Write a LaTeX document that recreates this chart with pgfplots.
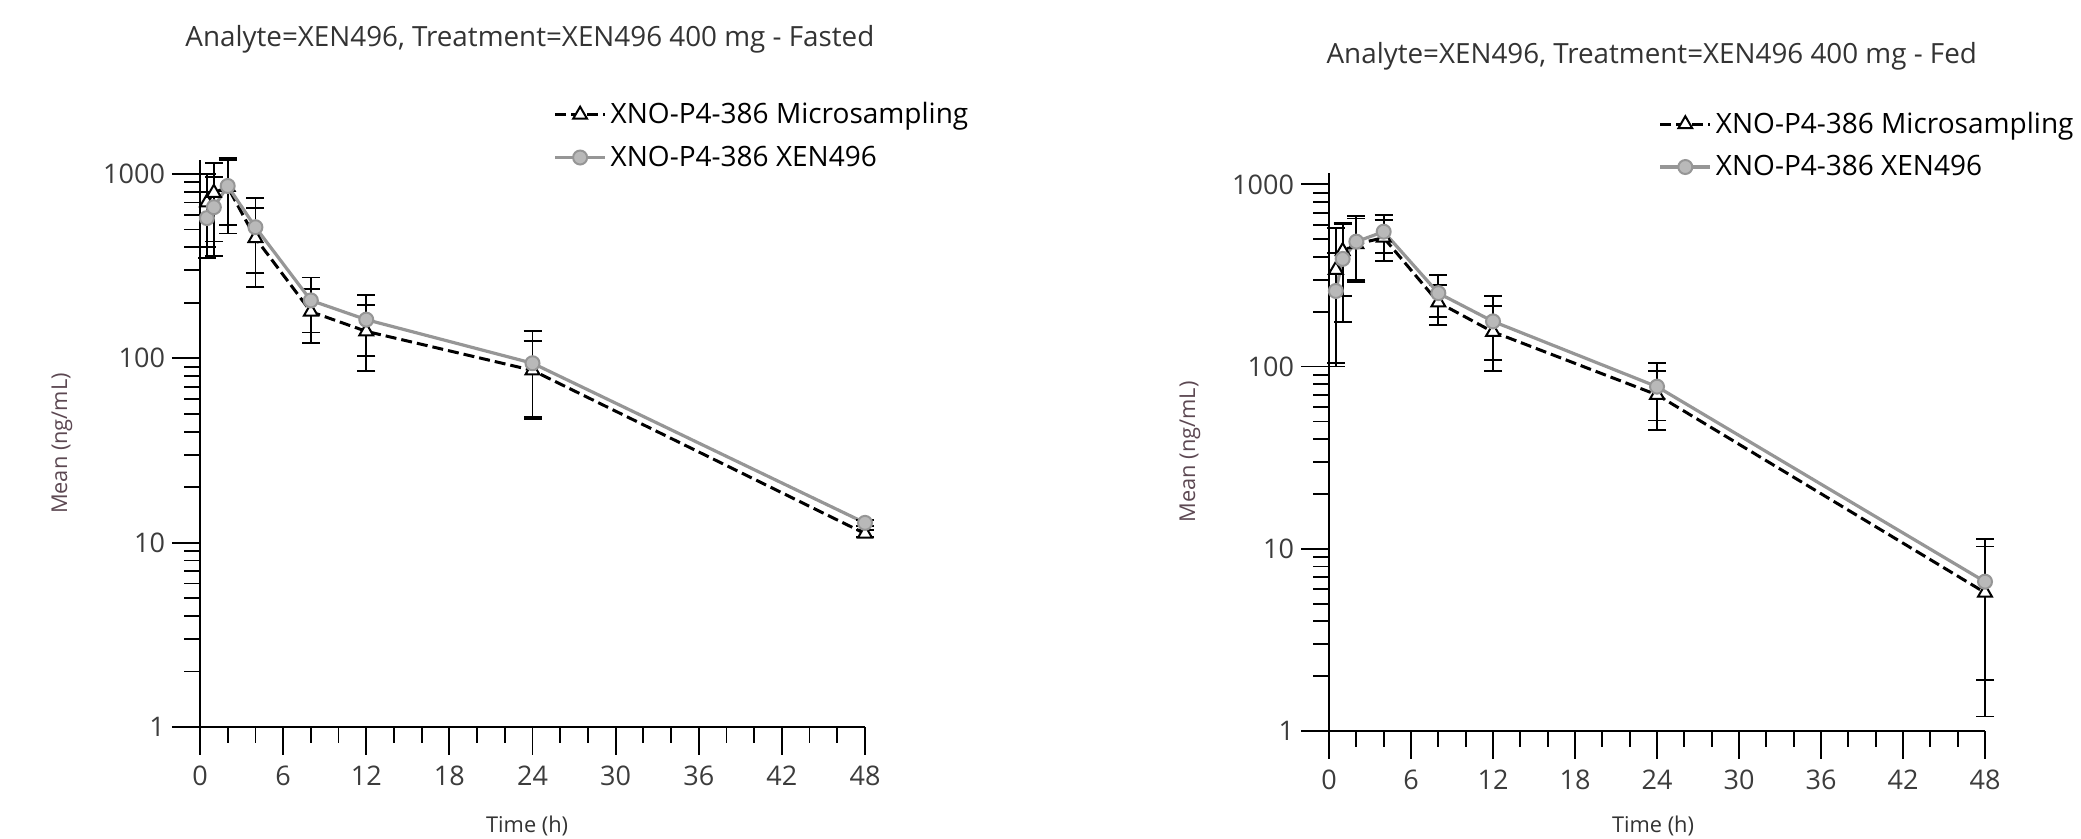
\documentclass[border=0pt]{standalone}
\usepackage{fontspec}
\setmainfont{Open Sans}
\usepackage{pgfplots}
\usepackage{pgfplotstable}
\pgfplotsset{compat=1.18}

\definecolor{ink}{RGB}{51,51,51}
\definecolor{ticktxt}{RGB}{60,60,60}
\definecolor{lbl}{RGB}{92,72,82}
\definecolor{xgray}{RGB}{150,150,150}
\definecolor{xfill}{RGB}{185,185,185}

% Fasted
\pgfplotstableread{
t    y     ey
0.5  700   300
1    790   360
2    850   375
4    449   205
8    179   58
12   140   55
24   86    38
48   11.2  0.5
}\fastmicro
\pgfplotstableread{
t    y     ey
0.5  576   225
1    660   300
2    860   330
4    514   225
8    206   68
12   162   59
24   94    47
48   12.8  0.5
}\fastxen
% Fed
\pgfplotstableread{
t    y     ey
0.5  340   235
1    430   185
2    470   180
4    510   130
8    225   55
12   155   60
24   70    25
48   5.75  4.55
}\fedmicro
\pgfplotstableread{
t    y     ey
0.5  260   160
1    390   215
2    485   186
4    550   130
8    253   65
12   177   68
24   77.6  27
48   6.6   4.7
}\fedxen

\pgfplotsset{
  legend image code/.code={
    \draw[mark repeat=2, mark phase=2, #1]
      plot coordinates {(0pt,0pt) (12.5pt,0pt) (25pt,0pt)};
  },
  every axis/.append style={
    scale only axis,
    xmin=0, xmax=48, ymin=1,
    axis lines=left,
    axis line style={-, line width=1.3pt, black},
    tick align=outside,
    major tick length=14pt, minor tick length=8pt,
    xtick={0,6,...,48}, minor x tick num=2,
    ytick={1,10,100,1000}, yticklabels={1,10,100,1000},
    tick label style={font=\fontsize{13.5}{15}\selectfont, text=ticktxt},
    xticklabel style={yshift=-2pt},
    xlabel={Time (h)}, ylabel={Mean (ng/mL)},
    label style={font=\fontsize{10.9}{12}\selectfont},
    title style={font=\fontsize{13.9}{16}\selectfont, text=ink},
    clip=false,
    legend cell align=left,
    legend style={draw=none, fill=none, inner sep=0pt,
      font=\fontsize{14}{16}\selectfont, text=black, row sep=5.5pt},
  },
  every tick/.append style={black, line width=0.9pt},
}

\begin{document}
\begin{tikzpicture}
\path[use as bounding box] (0,0) rectangle (1040.5pt,419.5pt);

\begin{axis}[
  ymode=log,
  at={(100pt,56pt)}, anchor=south west,
  width=332.5pt, height=283.5pt, ymax=1190,
  /pgf/number format/assume math mode=true,
  title={Analyte=XEN496, Treatment=XEN496 400 mg - Fasted},
  title style={at={(axis description cs:0.496,1.192)}, anchor=center, yshift=0pt},
  xlabel style={at={(axis description cs:0.492,-0.1746)}, anchor=center, text=ink},
  ylabel style={at={(axis description cs:-0.2075,0.5)}, anchor=center, text=lbl},
  legend style={at={(axis description cs:0.531,1.109)}, anchor=north west},
]
\addplot[black, line width=1.5pt, dash pattern=on 5.5pt off 2.5pt,
  mark=triangle*, mark size=4pt,
  mark options={solid, fill=white, draw=black, line width=1pt},
  error bars/.cd, y dir=both, y explicit,
  error bar style={solid, black, line width=0.9pt},
  error mark options={solid, black, line width=0.9pt, mark size=4.5pt, rotate=90}]
  table[x=t, y=y, y error=ey] {\fastmicro};
\addlegendentry{XNO-P4-386 Microsampling}
\addplot[xgray, line width=1.6pt, mark=*, mark size=3.5pt,
  mark options={solid, fill=xfill, draw=xgray, line width=1pt},
  error bars/.cd, y dir=both, y explicit,
  error bar style={solid, black, line width=0.9pt},
  error mark options={solid, black, line width=0.9pt, mark size=4.5pt, rotate=90}]
  table[x=t, y=y, y error=ey] {\fastxen};
\addlegendentry{XNO-P4-386 XEN496}
\end{axis}

\begin{axis}[
  ymode=log,
  at={(664.5pt,54pt)}, anchor=south west,
  width=328pt, height=279pt, ymax=1155,
  /pgf/number format/assume math mode=true,
  title={Analyte=XEN496, Treatment=XEN496 400 mg - Fed},
  title style={at={(axis description cs:0.492,1.188)}, anchor=center, yshift=0pt},
  xlabel style={at={(axis description cs:0.494,-0.170)}, anchor=center, text=ink},
  ylabel style={at={(axis description cs:-0.212,0.5)}, anchor=center, text=lbl},
  legend style={at={(axis description cs:0.502,1.117)}, anchor=north west},
]
\addplot[black, line width=1.5pt, dash pattern=on 5.5pt off 2.5pt,
  mark=triangle*, mark size=4pt,
  mark options={solid, fill=white, draw=black, line width=1pt},
  error bars/.cd, y dir=both, y explicit,
  error bar style={solid, black, line width=0.9pt},
  error mark options={solid, black, line width=0.9pt, mark size=4.5pt, rotate=90}]
  table[x=t, y=y, y error=ey] {\fedmicro};
\addlegendentry{XNO-P4-386 Microsampling}
\addplot[xgray, line width=1.6pt, mark=*, mark size=3.5pt,
  mark options={solid, fill=xfill, draw=xgray, line width=1pt},
  error bars/.cd, y dir=both, y explicit,
  error bar style={solid, black, line width=0.9pt},
  error mark options={solid, black, line width=0.9pt, mark size=4.5pt, rotate=90}]
  table[x=t, y=y, y error=ey] {\fedxen};
\addlegendentry{XNO-P4-386 XEN496}
\end{axis}
\end{tikzpicture}
\end{document}
